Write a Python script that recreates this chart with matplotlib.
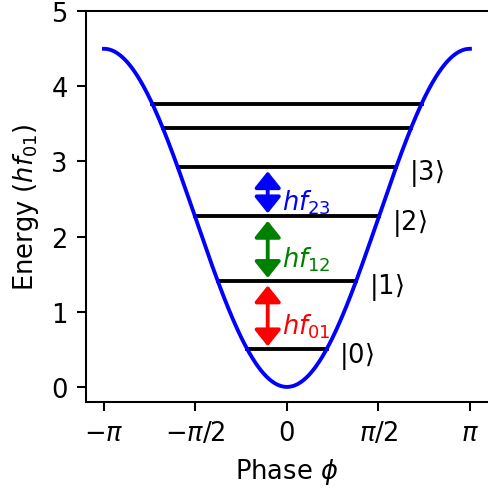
import numpy as np
import matplotlib.pyplot as plt

# potential depth and level energies in units of hf01
depth = 2.25
levels = [0.5, 1.41, 2.27, 2.93, 3.44, 3.77]
state_labels = [r'$|0\rangle$', r'$|1\rangle$', r'$|2\rangle$', r'$|3\rangle$']
trans_labels = [r'$hf_{01}$', r'$hf_{12}$', r'$hf_{23}$']
trans_colors = ['red', 'green', 'blue']

xticks = [-np.pi, -np.pi/2, 0, np.pi/2, np.pi]
xticklabels = [r'$-\pi$', r'$-\pi/2$', '0', r'$\pi/2$', r'$\pi$']

# original looks like a small figure saved at high dpi, so scale things up
s = 1.85
plt.rcParams.update({
    'font.size': 10 * s,
    'lines.linewidth': 1.5 * s,
    'axes.linewidth': 0.8 * s,
    'xtick.major.size': 3.5 * s,
    'ytick.major.size': 3.5 * s,
    'xtick.major.width': 0.8 * s,
    'ytick.major.width': 0.8 * s,
    'xtick.major.pad': 3.5 * s,
    'ytick.major.pad': 3.5 * s,
    'axes.labelpad': 4 * s,
})

fig = plt.figure(figsize=(4.88, 4.89), dpi=100)
ax = fig.add_axes([0.176, 0.176, 0.824, 0.799])

phi = np.linspace(-np.pi, np.pi, 400)
ax.plot(phi, depth * (1 - np.cos(phi)), color='blue', zorder=3)

for E in levels:
    edge = np.arccos(1 - E / depth)
    ax.plot([-edge, edge], [E, E], color='black')

for i, lab in enumerate(state_labels):
    edge = np.arccos(1 - levels[i] / depth)
    ax.text(edge + 0.22, levels[i] - 0.08, lab, va='center', ha='left')

x_arrow = -0.33
for i in range(3):
    lo, hi = levels[i], levels[i + 1]
    ax.annotate('', xy=(x_arrow, hi - 0.06), xytext=(x_arrow, lo + 0.04),
                arrowprops=dict(arrowstyle='<|-|>,head_length=0.5,head_width=0.4',
                                color=trans_colors[i], lw=1.5 * s, mutation_scale=20,
                                shrinkA=0, shrinkB=0))
    ax.text(x_arrow + 0.24, (lo + hi) / 2 - 0.14, trans_labels[i],
            color=trans_colors[i], va='center', ha='left')

ax.set_xlim(-np.pi - 0.31, np.pi + 0.31)
ax.set_ylim(-0.2, 5)
ax.set_xticks(xticks)
ax.set_xticklabels(xticklabels)
ax.set_yticks([0, 1, 2, 3, 4, 5])
ax.spines['right'].set_visible(False)
ax.set_xlabel(r'Phase $\phi$')
ax.set_ylabel(r'Energy ($hf_{01}$)')

plt.savefig('out.png')
